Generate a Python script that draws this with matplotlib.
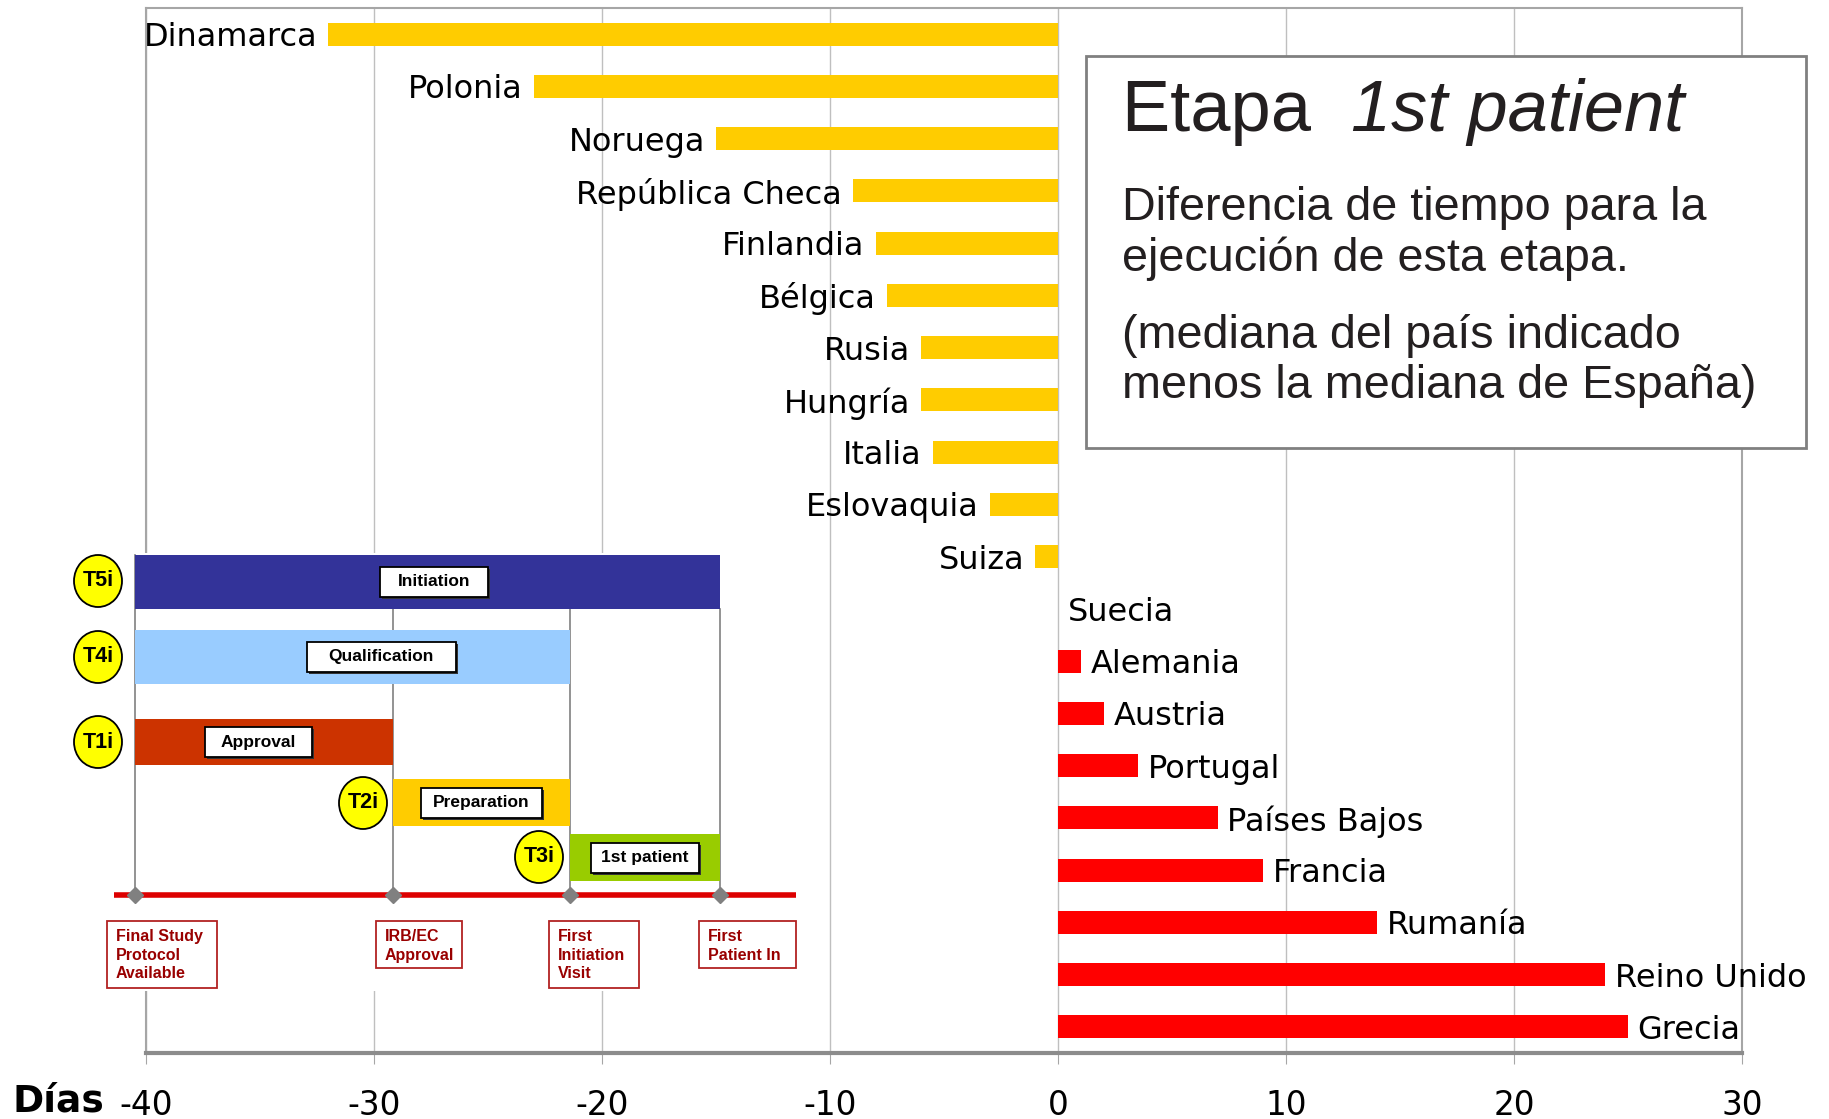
import numpy as np
import matplotlib
matplotlib.use("Agg")
import matplotlib.pyplot as plt
from matplotlib.patches import Rectangle, Ellipse

# ---------------- data ----------------
countries = ["Dinamarca", "Polonia", "Noruega", "República Checa", "Finlandia",
             "Bélgica", "Rusia", "Hungría", "Italia", "Eslovaquia", "Suiza",
             "Suecia", "Alemania", "Austria", "Portugal", "Países Bajos",
             "Francia", "Rumanía", "Reino Unido", "Grecia"]
days = [-32, -23, -15, -9, -8, -7.5, -6, -6, -5.5, -3, -1,
        0, 1, 2, 3.5, 7, 9, 14, 24, 25]
xticks = [-40, -30, -20, -10, 0, 10, 20, 30]

title_plain = "Etapa"
title_ital = "1st patient"
box_lines = ["Diferencia de tiempo para la", "ejecución de esta etapa.",
             "(mediana del país indicado", "menos la mediana de España)"]

# inset schematic (phases)
phase_names = ["Initiation", "Qualification", "Approval", "Preparation", "1st patient"]
phase_tags = ["T5i", "T4i", "T1i", "T2i", "T3i"]
phase_colors = ["#333399", "#99CCFF", "#CC3300", "#FFCC00", "#99CC00"]
milestones = ["Final Study\nProtocol\nAvailable", "IRB/EC\nApproval",
              "First\nInitiation\nVisit", "First\nPatient In"]

W, H = 1829, 1119
fig = plt.figure(figsize=(W / 100, H / 100), dpi=100)
fig.patch.set_facecolor("white")

ax = fig.add_axes([146 / W, 1 - 1053 / H, (1742 - 146) / W, (1053 - 8) / H])
y = np.arange(len(countries))
colors = ["#FFCC00" if v < 0 else "#FF0000" for v in days]
ax.barh(y, days, height=0.44, color=colors, zorder=3)
ax.set_ylim(len(countries) - 0.5, -0.5)
ax.set_xlim(-40, 30)
ax.set_xticks(xticks)
ax.set_xticklabels([str(t) for t in xticks])
ax.set_yticks([])
ax.grid(axis="x", color="#BFBFBF", lw=1.0)
ax.set_axisbelow(True)
for s in ["top", "left", "right"]:
    ax.spines[s].set_color("#A6A6A6")
    ax.spines[s].set_linewidth(1.5)
ax.spines["bottom"].set_color("#8C8C8C")
ax.spines["bottom"].set_linewidth(3)
ax.tick_params(axis="x", direction="out", length=8, color="#A6A6A6",
               labelsize=23.5, pad=18)

for yi, v, name in zip(y, days, countries):
    if v < 0:
        ax.annotate(name, (v, yi), xytext=(-8, -2.5), textcoords="offset points",
                    ha="right", va="center", fontsize=23, zorder=4)
    else:
        ax.annotate(name, (v, yi), xytext=(7, -2.5), textcoords="offset points",
                    ha="left", va="center", fontsize=23, zorder=4)

fig.text(12 / W, 1 - 1102 / H, "Días", fontsize=27, fontweight="bold",
         ha="left", va="center")

# ---------------- text box ----------------
ov = fig.add_axes([0, 0, 1, 1], zorder=10)
ov.set_xlim(0, W)
ov.set_ylim(H, 0)
ov.axis("off")
ov.patch.set_alpha(0)

ov.add_patch(Rectangle((1086, 56), 720, 392, facecolor="white",
                       edgecolor="#808080", lw=2))
t1 = ov.text(1122, 131, title_plain + "  ", fontsize=52, family="Liberation Sans",
             color="#231F20", va="baseline", ha="left")
fig.canvas.draw()
bb = t1.get_window_extent()
x_end = ov.transData.inverted().transform((bb.x1, bb.y0))[0]
ov.text(x_end, 131, title_ital, fontsize=52, family="Liberation Sans",
        style="italic", color="#231F20", va="baseline", ha="left")
for txt, yb in zip(box_lines, [220, 271, 348, 398]):
    ov.text(1122, yb, txt, fontsize=33.7, family="Liberation Sans",
            color="#231F20", va="baseline", ha="left")

# ---------------- inset schematic ----------------
ov.add_patch(Rectangle((60, 553), 745, 438, facecolor="white", edgecolor="none"))
xs = [135, 393, 570, 720]
line_y = 895
ov.plot([xs[0], xs[0]], [555, line_y], color="#808080", lw=1.2)
for xv in xs[1:]:
    ov.plot([xv, xv], [609, line_y], color="#808080", lw=1.2)

bars = [(xs[0], xs[3], 555, 609), (xs[0], xs[2], 630, 684), (xs[0], xs[1], 719, 765),
        (xs[1], xs[2], 779, 826), (xs[2], xs[3], 834, 881)]
label_boxes = [(434, 108), (381, 149), (258, 107), (481, 121), (645, 108)]
circles = [(98, 581), (98, 657), (98, 742), (363, 803), (539, 857)]
for (x0, x1, y0, y1), col, name, tag, (cx, bw), (ex, ey) in zip(
        bars, phase_colors, phase_names, phase_tags, label_boxes, circles):
    ov.add_patch(Rectangle((x0, y0), x1 - x0, y1 - y0, facecolor=col,
                           edgecolor="none", zorder=3))
    yc = (y0 + y1) / 2
    ov.add_patch(Rectangle((cx - bw / 2 + 2, yc - 15 + 2), bw, 30, facecolor="#333333",
                           edgecolor="none", zorder=4))
    ov.add_patch(Rectangle((cx - bw / 2, yc - 15), bw, 30, facecolor="white",
                           edgecolor="black", lw=1.3, zorder=5))
    ov.text(cx, yc, name, fontsize=12.5, fontweight="bold", family="Liberation Sans",
            ha="center", va="center", zorder=6)
    ov.add_patch(Ellipse((ex, ey), 48, 52, facecolor="#FFFF00", edgecolor="black",
                         lw=1.3, zorder=5))
    ov.text(ex, ey, tag, fontsize=15.5, fontweight="bold", family="Liberation Sans",
            ha="center", va="center", zorder=6)

ov.plot([114, 796], [line_y, line_y], color="#DD0000", lw=4, zorder=6,
        solid_capstyle="butt")
ov.plot(xs, [line_y] * 4, linestyle="none", marker="D", markersize=8,
        color="#808080", zorder=7)

mboxes = [(107, 217, 921, 988), (376, 462, 921, 968), (549, 639, 921, 988),
          (699, 796, 921, 968)]
for (x0, x1, y0, y1), txt in zip(mboxes, milestones):
    ov.add_patch(Rectangle((x0, y0), x1 - x0, y1 - y0, facecolor="white",
                           edgecolor="#B22222", lw=1.3, zorder=5))
    ov.text(x0 + 9, y0 + 8, txt, fontsize=11.5, fontweight="bold",
            family="Liberation Sans", color="#990000", ha="left", va="top",
            linespacing=1.3, zorder=6)

fig.savefig("out.png", dpi=100, facecolor="white")
